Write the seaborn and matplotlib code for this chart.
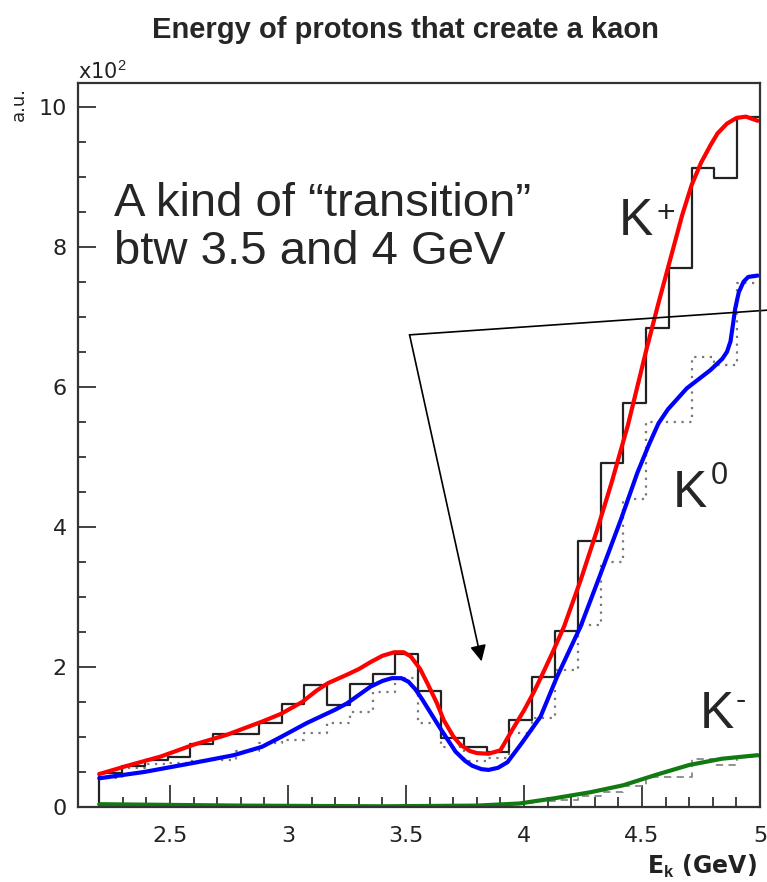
"""
Energy of protons that create a kaon - K+, K0 and K- histograms with hand drawn fit curves.
"""
import numpy as np
import pandas as pd
import matplotlib
matplotlib.use("Agg")
import matplotlib.pyplot as plt
import matplotlib.ticker as ticker
import seaborn as sns

# Histogram binning (GeV): 29 equal bins from 2.2 to 5.0
BIN_LO = 2.2
BIN_HI = 5.0
N_BINS = 29

# Bin contents (x10^2, a.u.)
k_plus_hist = [0.48, 0.58, 0.67, 0.72, 0.90, 1.04, 1.04, 1.20, 1.47, 1.74,
               1.45, 1.75, 1.90, 2.19, 1.65, 0.98, 0.86, 0.79, 1.24, 1.86,
               2.52, 3.80, 4.92, 5.77, 6.84, 7.70, 9.13, 8.99, 9.86]
k_zero_hist = [0.42, 0.56, 0.62, 0.63, 0.66, 0.67, 0.80, 0.92, 0.95, 1.05,
               1.20, 1.35, 1.64, 1.84, 1.20, 0.85, 0.66, 0.70, 1.05, 1.27,
               1.95, 2.60, 3.50, 4.40, 5.50, 5.50, 6.43, 6.31, 7.49]
k_minus_hist = [0.02, 0.02, 0.02, 0.02, 0.02, 0.02, 0.02, 0.02, 0.02, 0.02,
                0.02, 0.02, 0.02, 0.02, 0.02, 0.03, 0.03, 0.04, 0.05, 0.08,
                0.10, 0.15, 0.22, 0.30, 0.43, 0.43, 0.68, 0.60, 0.72]

# Hand drawn curves
red_x = [2.20, 2.32, 2.46, 2.60, 2.74, 2.89, 2.97, 3.06, 3.12, 3.17, 3.25, 3.30,
         3.35, 3.40, 3.45, 3.49, 3.52, 3.56, 3.59, 3.63, 3.66, 3.70, 3.73, 3.77,
         3.80, 3.85, 3.90, 3.95, 4.00, 4.04, 4.08, 4.12, 4.17, 4.24, 4.31, 4.37,
         4.44, 4.52, 4.57, 4.61, 4.67, 4.71, 4.75, 4.79, 4.82, 4.86, 4.90, 4.94, 4.99]
red_y = [0.47, 0.59, 0.72, 0.89, 1.03, 1.22, 1.33, 1.50, 1.66, 1.77, 1.89, 1.97,
         2.07, 2.16, 2.21, 2.21, 2.15, 1.97, 1.77, 1.49, 1.24, 1.01, 0.89, 0.80,
         0.77, 0.76, 0.81, 1.10, 1.38, 1.63, 1.91, 2.20, 2.58, 3.24, 3.96, 4.62,
         5.45, 6.55, 7.20, 7.70, 8.45, 8.88, 9.20, 9.45, 9.62, 9.76, 9.84, 9.86, 9.80]

blue_x = [2.20, 2.39, 2.60, 2.77, 2.89, 2.97, 3.08, 3.20, 3.25, 3.30, 3.35, 3.40,
          3.44, 3.48, 3.51, 3.54, 3.57, 3.64, 3.71, 3.75, 3.78, 3.82, 3.85, 3.89,
          3.93, 3.99, 4.07, 4.14, 4.24, 4.32, 4.41, 4.48, 4.53, 4.57, 4.61, 4.69,
          4.79, 4.84, 4.86, 4.875, 4.885, 4.895, 4.91, 4.93, 4.95, 4.99]
blue_y = [0.41, 0.50, 0.63, 0.74, 0.86, 1.00, 1.20, 1.39, 1.48, 1.60, 1.72, 1.80,
          1.84, 1.84, 1.79, 1.68, 1.53, 1.15, 0.79, 0.66, 0.59, 0.54, 0.53, 0.56,
          0.64, 0.91, 1.29, 1.86, 2.58, 3.29, 4.10, 4.77, 5.18, 5.48, 5.68, 5.98,
          6.24, 6.40, 6.50, 6.65, 6.88, 7.12, 7.35, 7.50, 7.57, 7.59]

green_x = [2.20, 2.80, 3.40, 3.80, 3.98, 4.12, 4.28, 4.42, 4.56, 4.70, 4.84, 4.99]
green_y = [0.04, 0.02, 0.01, 0.02, 0.05, 0.12, 0.21, 0.31, 0.46, 0.60, 0.69, 0.74]

W, H = 767, 882

sns.set_style('white')
plt.rcParams['font.family'] = ['Liberation Sans', 'DejaVu Sans']
plt.rcParams['mathtext.fontset'] = 'custom'
plt.rcParams['mathtext.rm'] = 'Liberation Sans'
plt.rcParams['mathtext.bf'] = 'Liberation Sans:bold'

fig = plt.figure(figsize=(W / 100, H / 100), dpi=100)
ax = fig.add_axes([78 / W, 75 / H, 682 / W, 724 / H])

edges = np.linspace(BIN_LO, BIN_HI, N_BINS + 1)
hist = pd.DataFrame({'E': (edges[:-1] + edges[1:]) / 2,
                     'kplus': k_plus_hist, 'kzero': k_zero_hist, 'kminus': k_minus_hist})

# histograms
common = dict(data=hist, x='E', bins=N_BINS, binrange=(BIN_LO, BIN_HI),
              element='step', fill=False, ax=ax)
sns.histplot(weights='kminus', color='#888888', linewidth=1.3, linestyle=(0, (4, 3)), **common)
sns.histplot(weights='kzero', color='#777777', linewidth=1.6, linestyle=(0, (1, 2.5)), **common)
sns.histplot(weights='kplus', color='#222222', linewidth=1.6, **common)
# left edge of the K+ histogram down to zero
ax.vlines(BIN_LO, 0, k_plus_hist[0], color='#222222', linewidth=1.6)

# fit curves
line_kw = dict(linewidth=3, sort=False, ax=ax, solid_joinstyle='round', solid_capstyle='round')
sns.lineplot(x=green_x, y=green_y, color='#127a12', **line_kw)
sns.lineplot(x=blue_x, y=blue_y, color='#0000ff', **line_kw)
sns.lineplot(x=red_x, y=red_y, color='#ff0000', **line_kw)

ax.set_xlim(2.11, 5.0)
ax.set_ylim(0, 10.34)
ax.set_xlabel('')
ax.set_ylabel('')

ax.xaxis.set_major_locator(ticker.MultipleLocator(0.5))
ax.xaxis.set_minor_locator(ticker.MultipleLocator(0.1))
ax.yaxis.set_major_locator(ticker.MultipleLocator(2))
ax.yaxis.set_minor_locator(ticker.MultipleLocator(0.5))
ax.xaxis.set_major_formatter(ticker.FuncFormatter(lambda v, p: f'{v:g}'))
ax.yaxis.set_major_formatter(ticker.FuncFormatter(lambda v, p: f'{v:g}'))
ax.tick_params(axis='x', which='major', direction='in', length=16, width=1.2,
               labelsize=16, pad=14, bottom=True, top=False, color='#222222')
ax.tick_params(axis='x', which='minor', direction='in', length=7, width=1.2,
               bottom=True, top=False, color='#222222')
ax.tick_params(axis='y', which='major', direction='in', length=13, width=1.2,
               labelsize=16, pad=8, left=True, right=False, color='#222222')
ax.tick_params(axis='y', which='minor', direction='in', length=6, width=1.2,
               left=True, right=False, color='#222222')
for lab in ax.get_xticklabels() + ax.get_yticklabels():
    lab.set_family('DejaVu Sans')
    lab.set_color('#222222')
for s in ax.spines.values():
    s.set_linewidth(1.6)
    s.set_color('#333333')

# annotations
ax.text(2.264, 8.93, 'A kind of \u201ctransition\u201d\nbtw 3.5 and 4 GeV', fontsize=34,
        va='top', ha='left', linespacing=1.12)
ax.annotate('', xy=(3.82, 2.08), xytext=(3.515, 6.743),
            arrowprops=dict(arrowstyle='-|>', color='black', lw=1.2,
                            mutation_scale=24, shrinkA=0, shrinkB=0))
ax.plot([3.515, 5.05], [6.743, 7.10], color='black', lw=1.2, clip_on=False)

ax.text(4.40, 8.17, 'K', fontsize=37, ha='left', va='baseline')
ax.text(4.56, 8.35, '+', fontsize=23, ha='left', va='baseline')
ax.text(4.63, 4.29, 'K', fontsize=37, ha='left', va='baseline')
ax.text(4.79, 4.62, '0', fontsize=22, ha='left', va='baseline')
ax.text(4.745, 1.13, 'K', fontsize=37, ha='left', va='baseline')
ax.text(4.895, 1.40, '-', fontsize=22, ha='left', va='baseline')

# titles and axis labels
fig.text(405 / W, 1 - 38 / H, 'Energy of protons that create a kaon', fontsize=21,
         fontweight='bold', ha='center', va='baseline')
fig.text(78 / W, 1 - 79 / H, 'x10$^2$', fontsize=15, ha='left', va='baseline',
         family='DejaVu Sans', color='#222222')
fig.text(28 / W, 1 - 87 / H, 'a.u.', fontsize=13, rotation=90, ha='right', va='top',
         family='DejaVu Sans', color='#222222')
fig.text(757 / W, 1 - 874 / H, r'E$_\mathbf{k}$ (GeV)', fontsize=17, fontweight='bold',
         ha='right', va='baseline', family='DejaVu Sans', color='#222222')

fig.savefig('out.png', dpi=100)
